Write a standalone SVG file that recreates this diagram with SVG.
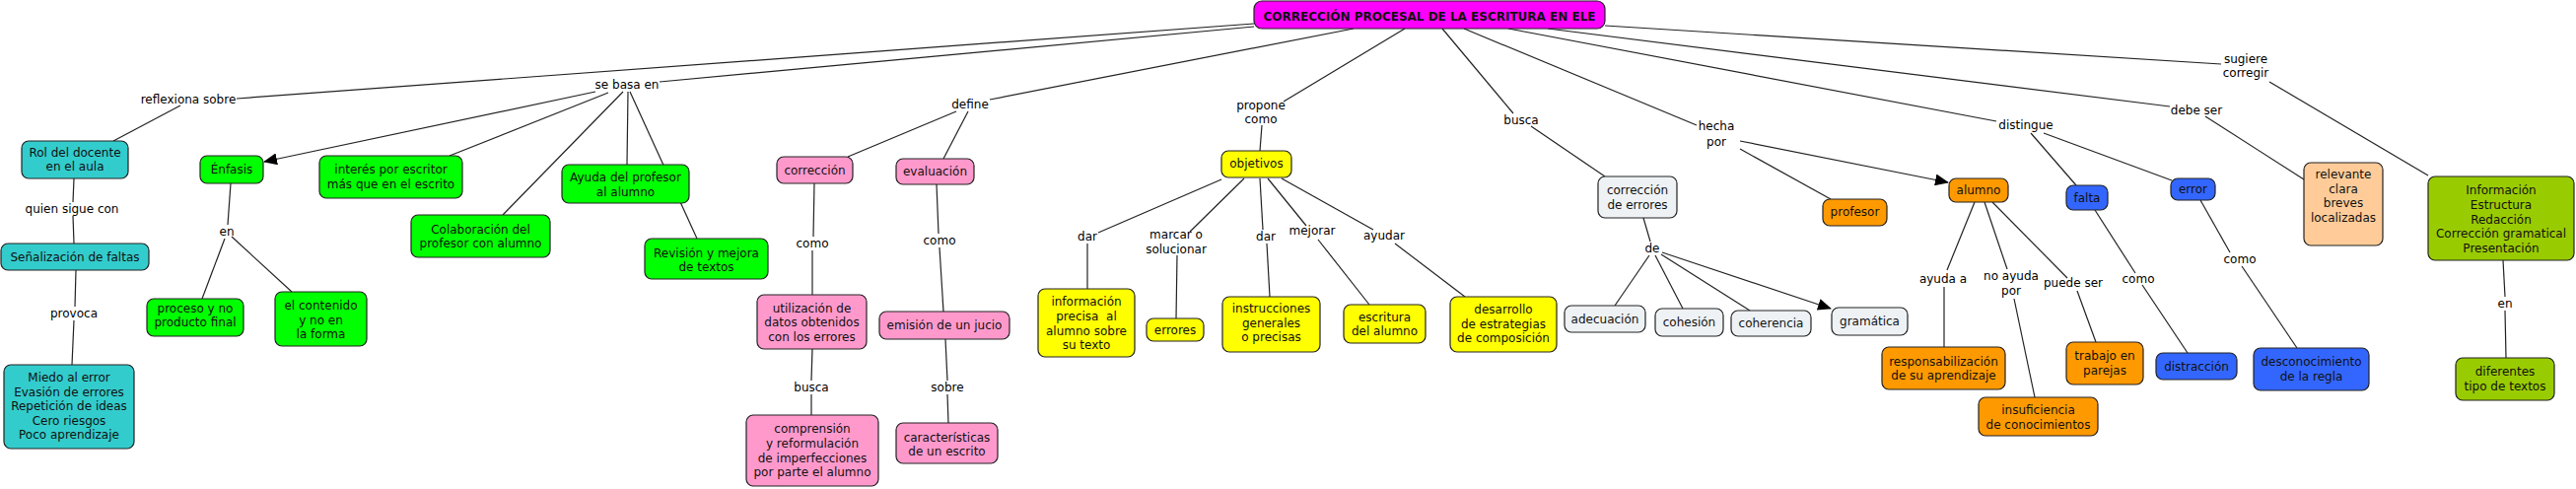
<svg xmlns="http://www.w3.org/2000/svg" width="2613" height="496" viewBox="0 0 2613 496">
<style>
text{font-family:"DejaVu Sans",Verdana,sans-serif;font-size:12px;fill:#111;text-anchor:middle}
.t{font-weight:bold;font-size:12px}
rect{stroke:#222;stroke-width:1.2}
.teal{fill:#33CCCC}.grn{fill:#00FF00}.pnk{fill:#FF99CC}.yel{fill:#FFFF00}.lgt{fill:#EEF2F4}.org{fill:#FF9900}.blu{fill:#3366FF}.pch{fill:#FFCC99}.olv{fill:#99CC00}.mag{fill:#FF00FF}
#connectors line{stroke:#222;stroke-width:1.2}
.lbl text{fill:#000}
</style>
<defs>
<marker id="arr" markerUnits="userSpaceOnUse" markerWidth="14" markerHeight="12" refX="13" refY="6" orient="auto">
<path d="M0,0 L14,6 L0,12 Z" fill="#000"/>
</marker>
</defs>
<g id="connectors">
<line x1="1272" y1="24" x2="240" y2="100"/>
<line x1="183" y1="107" x2="115" y2="143"/>
<line x1="1272" y1="27" x2="669" y2="83"/>
<line x1="604" y1="93" x2="268" y2="164" marker-end="url(#arr)"/>
<line x1="617" y1="94" x2="456" y2="158"/>
<line x1="632" y1="93" x2="510" y2="218"/>
<line x1="637" y1="93" x2="636" y2="167"/>
<line x1="639" y1="93" x2="707" y2="242"/>
<line x1="75" y1="181" x2="74" y2="205"/>
<line x1="74" y1="219" x2="75" y2="247"/>
<line x1="77" y1="274" x2="76" y2="311"/>
<line x1="75" y1="325" x2="73" y2="370"/>
<line x1="234" y1="186" x2="231" y2="228"/>
<line x1="228" y1="242" x2="205" y2="303"/>
<line x1="235" y1="240" x2="296" y2="296"/>
<line x1="1373" y1="29" x2="1004" y2="101"/>
<line x1="970" y1="113" x2="860" y2="159"/>
<line x1="982" y1="113" x2="957" y2="161"/>
<line x1="826" y1="186" x2="825" y2="240"/>
<line x1="824" y1="254" x2="824" y2="299"/>
<line x1="824" y1="354" x2="823" y2="386"/>
<line x1="823" y1="400" x2="823" y2="421"/>
<line x1="950" y1="187" x2="952" y2="237"/>
<line x1="953" y1="251" x2="957" y2="316"/>
<line x1="959" y1="344" x2="961" y2="386"/>
<line x1="961" y1="400" x2="962" y2="429"/>
<line x1="1425" y1="29" x2="1302" y2="103"/>
<line x1="1280" y1="127" x2="1278" y2="153"/>
<line x1="1239" y1="182" x2="1114" y2="236"/>
<line x1="1103" y1="247" x2="1103" y2="293"/>
<line x1="1262" y1="181" x2="1207" y2="235"/>
<line x1="1194" y1="259" x2="1193" y2="323"/>
<line x1="1278" y1="181" x2="1281" y2="233"/>
<line x1="1285" y1="247" x2="1288" y2="301"/>
<line x1="1286" y1="181" x2="1325" y2="229"/>
<line x1="1337" y1="243" x2="1389" y2="309"/>
<line x1="1300" y1="181" x2="1393" y2="233"/>
<line x1="1415" y1="247" x2="1486" y2="301"/>
<line x1="1463" y1="29" x2="1535" y2="115"/>
<line x1="1553" y1="128" x2="1628" y2="179"/>
<line x1="1667" y1="221" x2="1674" y2="245"/>
<line x1="1673" y1="259" x2="1638" y2="310"/>
<line x1="1679" y1="259" x2="1707" y2="313"/>
<line x1="1685" y1="258" x2="1775" y2="315"/>
<line x1="1686" y1="256" x2="1857" y2="313" marker-end="url(#arr)"/>
<line x1="1485" y1="29" x2="1721" y2="127"/>
<line x1="1765" y1="143" x2="1976" y2="185" marker-end="url(#arr)"/>
<line x1="1765" y1="151" x2="1857" y2="202"/>
<line x1="2003" y1="205" x2="1975" y2="274"/>
<line x1="1972" y1="291" x2="1972" y2="352"/>
<line x1="2013" y1="205" x2="2036" y2="273"/>
<line x1="2043" y1="303" x2="2064" y2="403"/>
<line x1="2021" y1="205" x2="2097" y2="282"/>
<line x1="2107" y1="295" x2="2126" y2="347"/>
<line x1="1530" y1="29" x2="2025" y2="123"/>
<line x1="2060" y1="135" x2="2106" y2="188"/>
<line x1="2073" y1="135" x2="2203" y2="183"/>
<line x1="2125" y1="213" x2="2166" y2="277"/>
<line x1="2173" y1="289" x2="2219" y2="358"/>
<line x1="2232" y1="203" x2="2262" y2="256"/>
<line x1="2274" y1="270" x2="2330" y2="353"/>
<line x1="1570" y1="29" x2="2201" y2="108"/>
<line x1="2237" y1="118" x2="2337" y2="182"/>
<line x1="1628" y1="26" x2="2253" y2="65"/>
<line x1="2302" y1="83" x2="2463" y2="178"/>
<line x1="2539" y1="264" x2="2541" y2="301"/>
<line x1="2541" y1="315" x2="2542" y2="363"/>
</g>
<g id="labels" class="lbl">
<text x="191" y="105">reflexiona sobre</text>
<text x="73" y="216">quien sigue con</text>
<text x="75" y="322">provoca</text>
<text x="230" y="239">en</text>
<text x="636" y="90">se basa en</text>
<text x="984" y="110">define</text>
<text x="824" y="251">como</text>
<text x="823" y="397">busca</text>
<text x="953" y="248">como</text>
<text x="961" y="397">sobre</text>
<text x="1279" y="111">propone</text>
<text x="1279" y="125">como</text>
<text x="1543" y="126">busca</text>
<text x="1103" y="244">dar</text>
<text x="1193" y="242">marcar o</text>
<text x="1193" y="257">solucionar</text>
<text x="1284" y="244">dar</text>
<text x="1331" y="238">mejorar</text>
<text x="1404" y="243">ayudar</text>
<text x="1676" y="256">de</text>
<text x="1741" y="132">hecha</text>
<text x="1741" y="148">por</text>
<text x="1971" y="287">ayuda a</text>
<text x="2040" y="284">no ayuda</text>
<text x="2040" y="299">por</text>
<text x="2103" y="291">puede ser</text>
<text x="2169" y="287">como</text>
<text x="2272" y="267">como</text>
<text x="2055" y="131">distingue</text>
<text x="2228" y="116">debe ser</text>
<text x="2278" y="64">sugiere</text>
<text x="2278" y="78">corregir</text>
<text x="2541" y="312">en</text>
</g>
<g id="n-title"><rect class="mag" x="1272" y="1" width="356" height="28" rx="8"/><text class="t" x="1450" y="21">CORRECCIÓN PROCESAL DE LA ESCRITURA EN ELE</text></g>
<g id="n-rol"><rect class="teal" x="22" y="143" width="108" height="38" rx="7"/><text x="76" y="159">Rol del docente</text><text x="76" y="173">en el aula</text></g>
<g id="n-senal"><rect class="teal" x="1" y="247" width="150" height="27" rx="7"/><text x="76" y="265">Señalización de faltas</text></g>
<g id="n-miedo"><rect class="teal" x="4" y="370" width="132" height="85" rx="7"/><text x="70" y="387">Miedo al error</text><text x="70" y="401.5">Evasión de errores</text><text x="70" y="416">Repetición de ideas</text><text x="70" y="430.5">Cero riesgos</text><text x="70" y="445">Poco aprendizaje</text></g>
<g id="n-enfasis"><rect class="grn" x="203" y="158" width="64" height="28" rx="7"/><text x="235" y="176">Énfasis</text></g>
<g id="n-proceso"><rect class="grn" x="149" y="303" width="98" height="38" rx="7"/><text x="198" y="317">proceso y no</text><text x="198" y="331">producto final</text></g>
<g id="n-contenido"><rect class="grn" x="279" y="296" width="93" height="55" rx="7"/><text x="325.5" y="314">el contenido</text><text x="325.5" y="328.5">y no en</text><text x="325.5" y="343">la forma</text></g>
<g id="n-interes"><rect class="grn" x="324" y="158" width="145" height="43" rx="7"/><text x="396.5" y="176">interés por escritor</text><text x="396.5" y="191">más que en el escrito</text></g>
<g id="n-colab"><rect class="grn" x="417" y="218" width="141" height="43" rx="7"/><text x="487.5" y="237">Colaboración del</text><text x="487.5" y="251">profesor con alumno</text></g>
<g id="n-ayuda"><rect class="grn" x="570" y="167" width="129" height="39" rx="7"/><text x="634.5" y="184">Ayuda del profesor</text><text x="634.5" y="199">al alumno</text></g>
<g id="n-revision"><rect class="grn" x="654" y="242" width="125" height="41" rx="7"/><text x="716.5" y="261">Revisión y mejora</text><text x="716.5" y="275">de textos</text></g>
<g id="n-correccion"><rect class="pnk" x="788" y="159" width="77" height="27" rx="7"/><text x="826.5" y="177">corrección</text></g>
<g id="n-evaluacion"><rect class="pnk" x="909" y="161" width="79" height="26" rx="7"/><text x="948.5" y="178">evaluación</text></g>
<g id="n-utilizacion"><rect class="pnk" x="768" y="299" width="111" height="55" rx="7"/><text x="823.5" y="317">utilización de</text><text x="823.5" y="331">datos obtenidos</text><text x="823.5" y="345.5">con los errores</text></g>
<g id="n-comprension"><rect class="pnk" x="757" y="421" width="134" height="72" rx="7"/><text x="824" y="439">comprensión</text><text x="824" y="454">y reformulación</text><text x="824" y="469">de imperfecciones</text><text x="824" y="483">por parte el alumno</text></g>
<g id="n-emision"><rect class="pnk" x="892" y="316" width="132" height="28" rx="7"/><text x="958" y="334">emisión de un jucio</text></g>
<g id="n-caract"><rect class="pnk" x="909" y="429" width="103" height="41" rx="7"/><text x="960.5" y="448">características</text><text x="960.5" y="462">de un escrito</text></g>
<g id="n-objetivos"><rect class="yel" x="1239" y="153" width="71" height="27" rx="7"/><text x="1274.5" y="170">objetivos</text></g>
<g id="n-info"><rect class="yel" x="1053" y="293" width="98" height="69" rx="7"/><text x="1102" y="310">información</text><text x="1102" y="325">precisa&#160; al</text><text x="1102" y="340">alumno sobre</text><text x="1102" y="354">su texto</text></g>
<g id="n-errores"><rect class="yel" x="1163" y="323" width="58" height="23" rx="7"/><text x="1192" y="338.5">errores</text></g>
<g id="n-instr"><rect class="yel" x="1240" y="301" width="99" height="56" rx="7"/><text x="1289.5" y="317">instrucciones</text><text x="1289.5" y="332">generales</text><text x="1289.5" y="346">o precisas</text></g>
<g id="n-escritura"><rect class="yel" x="1363" y="309" width="83" height="39" rx="7"/><text x="1404.5" y="326">escritura</text><text x="1404.5" y="340">del alumno</text></g>
<g id="n-desarrollo"><rect class="yel" x="1471" y="301" width="108" height="56" rx="7"/><text x="1525" y="318">desarrollo</text><text x="1525" y="333">de estrategias</text><text x="1525" y="347">de composición</text></g>
<g id="n-correrr"><rect class="lgt" x="1621" y="179" width="80" height="42" rx="7"/><text x="1661" y="197">corrección</text><text x="1661" y="212">de errores</text></g>
<g id="n-adecuacion"><rect class="lgt" x="1587" y="310" width="82" height="27" rx="7"/><text x="1628" y="328">adecuación</text></g>
<g id="n-cohesion"><rect class="lgt" x="1679" y="313" width="69" height="28" rx="7"/><text x="1713.5" y="331">cohesión</text></g>
<g id="n-coherencia"><rect class="lgt" x="1756" y="315" width="81" height="26" rx="7"/><text x="1796.5" y="332">coherencia</text></g>
<g id="n-gramatica"><rect class="lgt" x="1858" y="312" width="77" height="28" rx="7"/><text x="1896.5" y="330">gramática</text></g>
<g id="n-profesor"><rect class="org" x="1849" y="202" width="65" height="27" rx="7"/><text x="1881.5" y="219">profesor</text></g>
<g id="n-alumno"><rect class="org" x="1977" y="181" width="60" height="24" rx="7"/><text x="2007" y="197">alumno</text></g>
<g id="n-respons"><rect class="org" x="1909" y="352" width="125" height="43" rx="7"/><text x="1971.5" y="371">responsabilización</text><text x="1971.5" y="385">de su aprendizaje</text></g>
<g id="n-insuf"><rect class="org" x="2007" y="403" width="121" height="39" rx="7"/><text x="2067.5" y="420">insuficiencia</text><text x="2067.5" y="435">de conocimientos</text></g>
<g id="n-trabajo"><rect class="org" x="2096" y="347" width="78" height="43" rx="7"/><text x="2135" y="365">trabajo en</text><text x="2135" y="380">parejas</text></g>
<g id="n-falta"><rect class="blu" x="2096" y="188" width="42" height="25" rx="7"/><text x="2117" y="205">falta</text></g>
<g id="n-error"><rect class="blu" x="2202" y="181" width="45" height="22" rx="7"/><text x="2224.5" y="196">error</text></g>
<g id="n-distraccion"><rect class="blu" x="2187" y="358" width="82" height="27" rx="7"/><text x="2228" y="376">distracción</text></g>
<g id="n-descon"><rect class="blu" x="2286" y="353" width="117" height="43" rx="7"/><text x="2344.5" y="371">desconocimiento</text><text x="2344.5" y="386">de la regla</text></g>
<g id="n-relevante"><rect class="pch" x="2337" y="165" width="80" height="84" rx="7"/><text x="2377" y="181">relevante</text><text x="2377" y="196">clara</text><text x="2377" y="210">breves</text><text x="2377" y="225">localizadas</text></g>
<g id="n-informacion"><rect class="olv" x="2463" y="179" width="148" height="85" rx="7"/><text x="2537" y="197">Información</text><text x="2537" y="212">Estructura</text><text x="2537" y="227">Redacción</text><text x="2537" y="241">Corrección gramatical</text><text x="2537" y="256">Presentación</text></g>
<g id="n-diferentes"><rect class="olv" x="2491" y="363" width="100" height="43" rx="7"/><text x="2541" y="381">diferentes</text><text x="2541" y="396">tipo de textos</text></g>
</svg>
